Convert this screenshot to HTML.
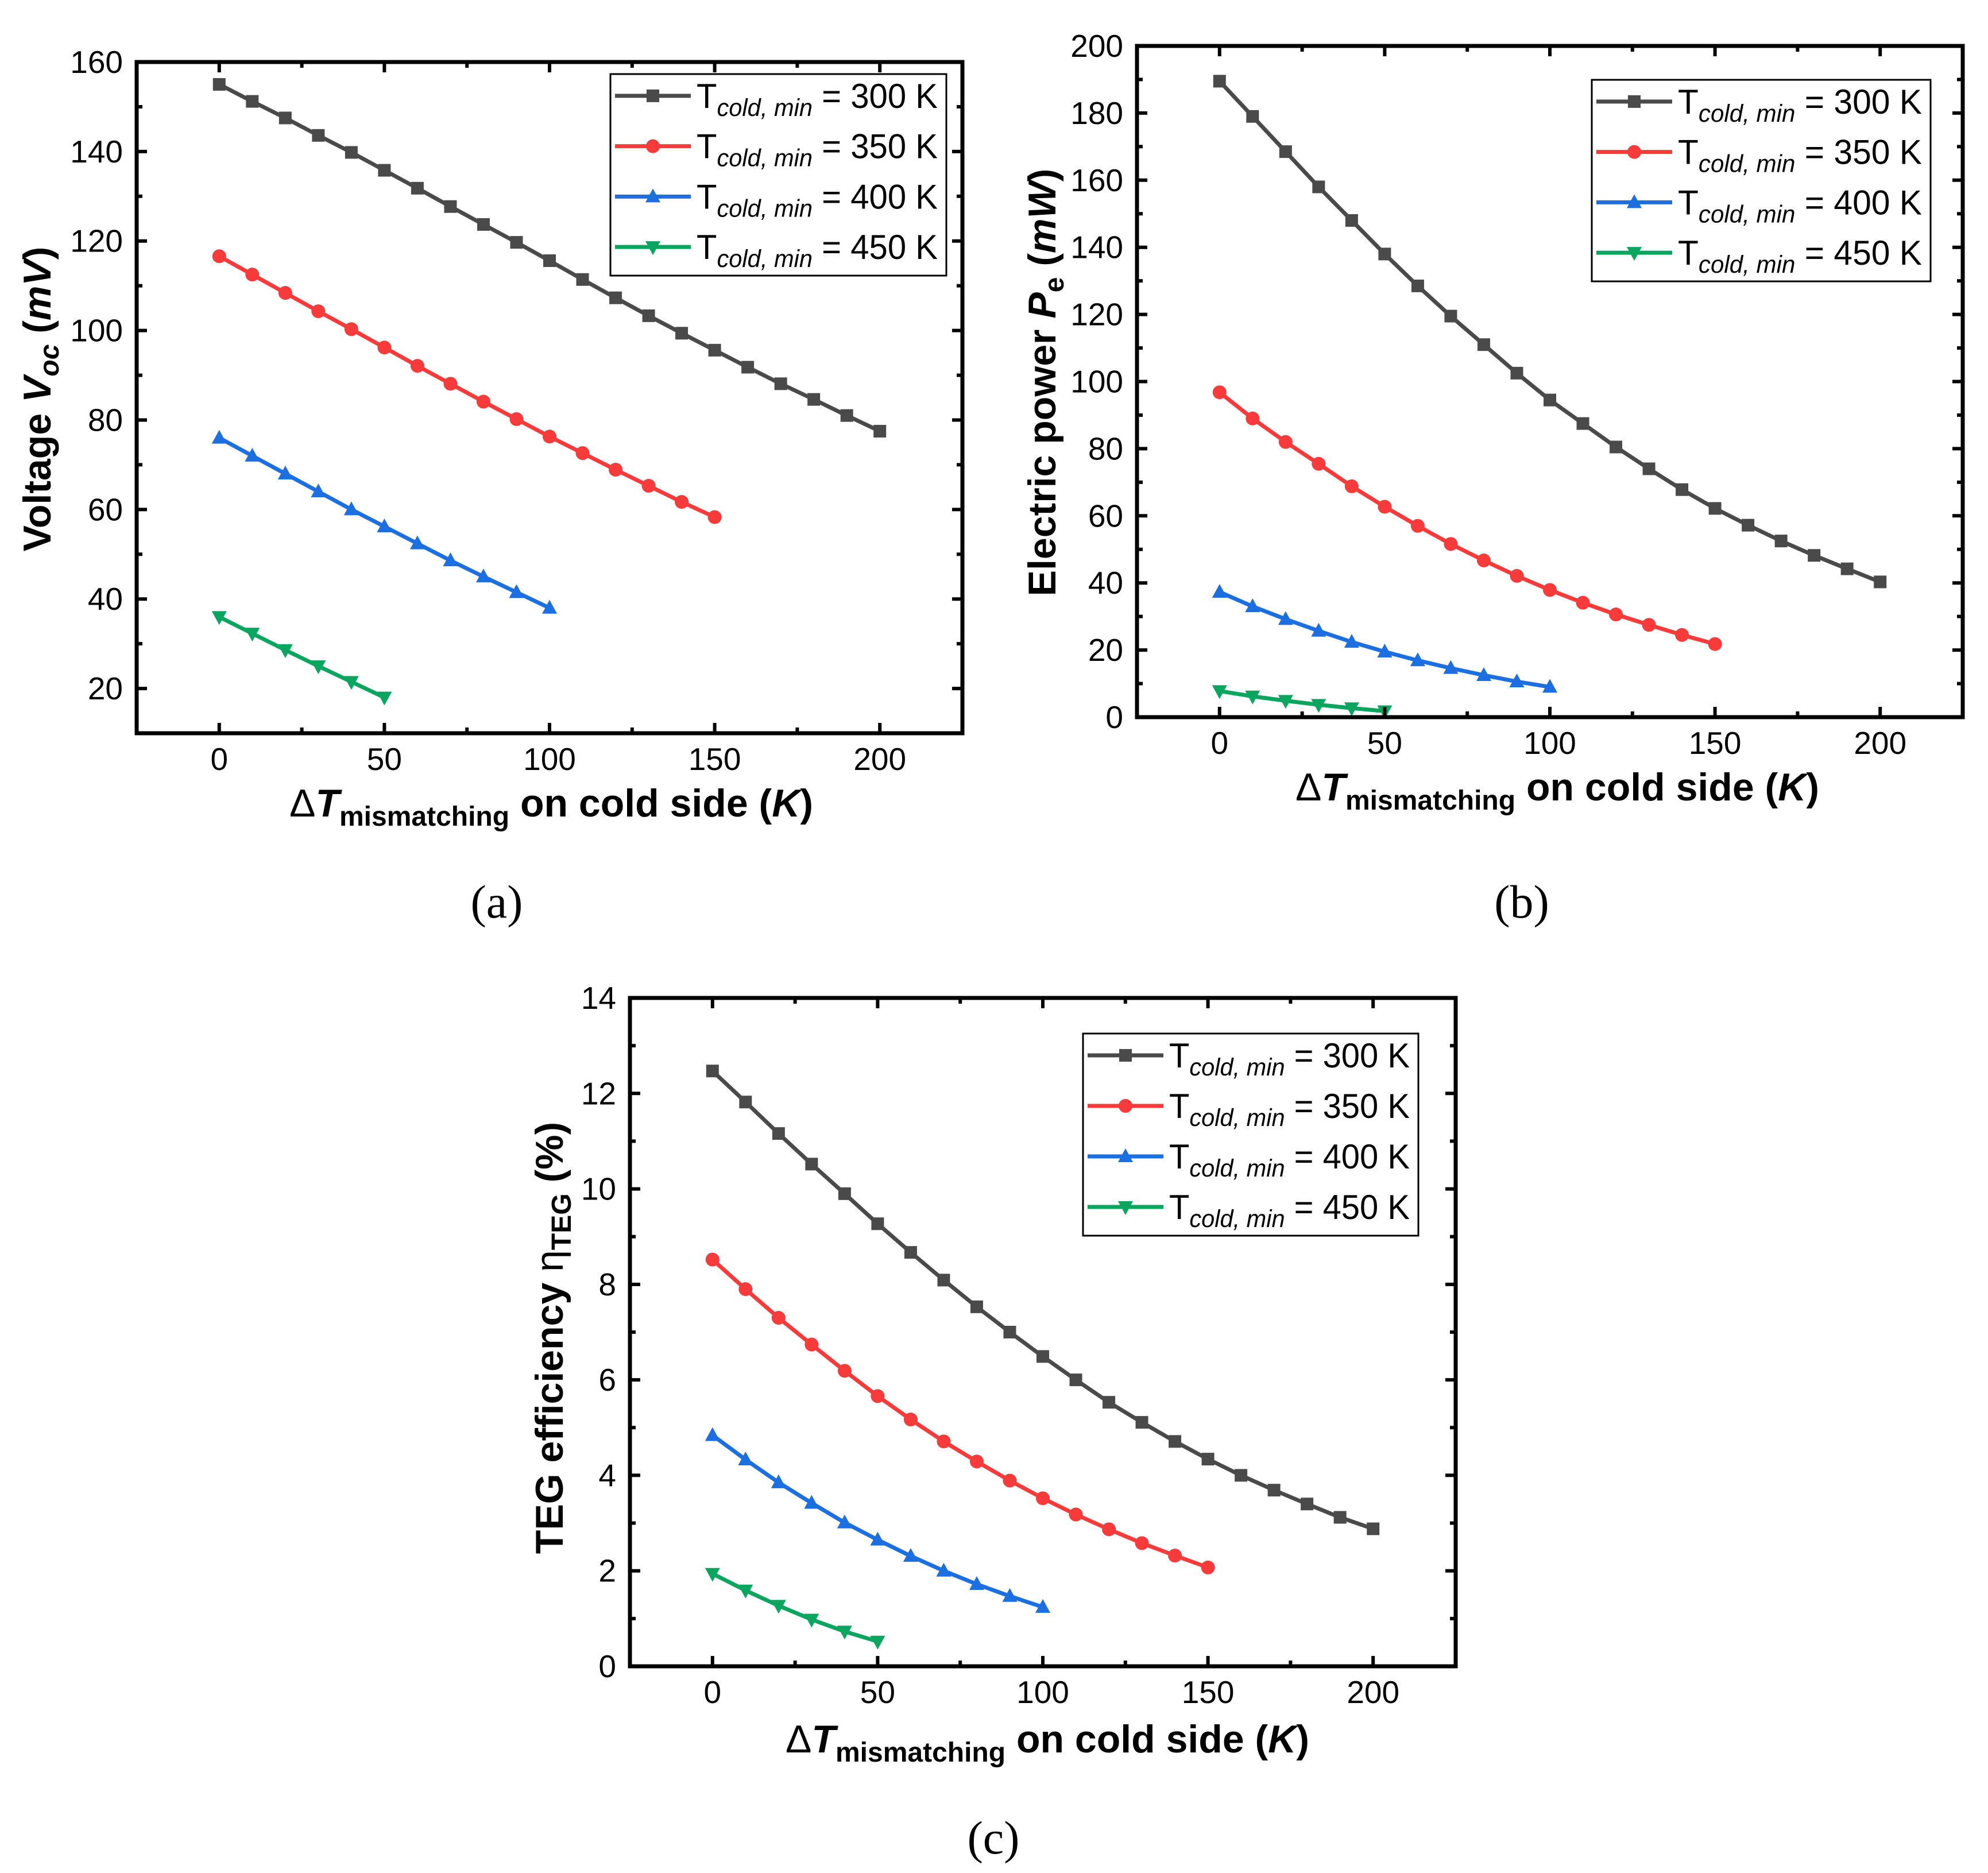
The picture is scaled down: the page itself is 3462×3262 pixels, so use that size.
<!DOCTYPE html>
<html><head><meta charset="utf-8">
<style>
html,body{margin:0;padding:0;background:#fff;}
svg{display:block;}
text{font-family:"Liberation Sans",sans-serif;}
</style></head>
<body>
<svg id="fig" width="3462" height="3262" viewBox="0 0 3462 3262" xmlns="http://www.w3.org/2000/svg"></svg>
<script>
// ---- data ----
const xCats300 = [0,10,20,30,40,50,60,70,80,90,100,110,120,130,140,150,160,170,180,190,200];
const xCats350 = [0,10,20,30,40,50,60,70,80,90,100,110,120,130,140,150];
const xCats400 = [0,10,20,30,40,50,60,70,80,90,100];
const xCats450 = [0,10,20,30,40,50];

const voc300 = [155,151.2,147.5,143.6,139.8,135.8,131.8,127.7,123.7,119.7,115.6,111.4,107.3,103.3,99.4,95.6,91.8,88.1,84.6,81,77.5];
const voc350 = [116.6,112.5,108.4,104.3,100.3,96.2,92.1,88.1,84.1,80.2,76.3,72.6,68.9,65.3,61.7,58.3];
const voc400 = [76,72,68,64,60,56.2,52.4,48.6,45,41.5,38];
const voc450 = [36,32.3,28.6,25,21.5,18];

const pe300 = [189.5,179,168.5,158,148,138,128.5,119.5,111,102.5,94.5,87.5,80.5,74,67.8,62.2,57.2,52.5,48.2,44.2,40.3];
const pe350 = [96.8,89,82,75.5,68.8,62.7,57,51.6,46.7,42.1,37.9,34.1,30.6,27.5,24.5,21.8];
const pe400 = [37.3,33,29.2,25.7,22.4,19.5,16.9,14.6,12.5,10.6,9];
const pe450 = [7.8,6.2,4.9,3.7,2.7,1.8];

const eta300 = [12.47,11.82,11.16,10.52,9.9,9.27,8.67,8.09,7.53,7,6.49,6.0,5.53,5.11,4.71,4.34,4.0,3.69,3.4,3.12,2.88];
const eta350 = [8.52,7.9,7.3,6.74,6.19,5.66,5.17,4.71,4.29,3.89,3.52,3.18,2.87,2.58,2.32,2.07];
const eta400 = [4.84,4.33,3.85,3.42,3.01,2.65,2.31,2.0,1.72,1.47,1.24];
const eta450 = [1.94,1.59,1.27,0.98,0.73,0.52];

const xTickLabels = [0,50,100,150,200];
const yTicksA = [20,40,60,80,100,120,140,160];
const yTicksB = [0,20,40,60,80,100,120,140,160,180,200];
const yTicksC = [0,2,4,6,8,10,12,14];
const legendLabels = ["300 K","350 K","400 K","450 K"];

const NS="http://www.w3.org/2000/svg";
const svg=document.getElementById('fig');
function mk(tag,attrs,parent){const e=document.createElementNS(NS,tag);for(const k in attrs)e.setAttribute(k,attrs[k]);(parent||svg).appendChild(e);return e;}

const colors=["#4a4a4a","#f73b3b","#1c6fe0","#0aa65f"];
const markers=["square","circle","up","down"];

function marker(g,type,x,y,c){
  let m;
  if(type==="square") m=mk('rect',{x:x-11,y:y-11,width:22,height:22,fill:c},g);
  else if(type==="circle") m=mk('circle',{cx:x,cy:y,r:12,fill:c},g);
  else if(type==="up") m=mk('polygon',{points:`${x},${y-14} ${x-13},${y+10} ${x+13},${y+10}`,fill:c},g);
  else m=mk('polygon',{points:`${x},${y+14} ${x-13},${y-10} ${x+13},${y-10}`,fill:c},g);
  return m;
}

function panel(cfg){
  const g=mk('g',{});
  
  
  const L=cfg.L,R=cfg.R,T=cfg.T,B=cfg.B;
  const xs=v=>L+(v+25)/250*(R-L);
  const ys=v=>B-(v-cfg.ymin)/(cfg.ymax-cfg.ymin)*(B-T);
  cfg.series.forEach((s,i)=>{
    const sg=mk('g',{},g);
    
    
    const pts=s.x.map((xv,j)=>xs(xv)+','+ys(s.y[j])).join(' ');
    const pl=mk('polyline',{points:pts,fill:'none',stroke:colors[i],'stroke-width':7,'stroke-linejoin':'round'},sg);
    
    
    s.x.forEach((xv,j)=>{
      const m=marker(sg,markers[i],xs(xv),ys(s.y[j]),colors[i]);
      
      
    });
  });
  const fr=mk('rect',{x:L,y:T,width:R-L,height:B-T,fill:'none',stroke:'#000','stroke-width':7},g);
  
  
  for(let v=0;v<=200;v+=25){
    const X=xs(v);const len=(v%50===0)?18:10;
    mk('line',{x1:X,y1:B,x2:X,y2:B-len,stroke:'#000','stroke-width':6},g);
    mk('line',{x1:X,y1:T,x2:X,y2:T+len,stroke:'#000','stroke-width':6},g);
  }
  xTickLabels.forEach(v=>{
    const t=mk('text',{x:xs(v),y:B+64,'font-size':55,'text-anchor':'middle'},g);
    t.textContent=v;
    
    
  });
  const step=cfg.yticks[1]-cfg.yticks[0];
  for(let v=cfg.ymin;v<=cfg.ymax+1e-9;v+=step/2){
    const Y=ys(v);const major=cfg.yticks.some(t=>Math.abs(t-v)<1e-6);const len=major?18:10;
    mk('line',{x1:L,y1:Y,x2:L+len,y2:Y,stroke:'#000','stroke-width':6},g);
    mk('line',{x1:R,y1:Y,x2:R-len,y2:Y,stroke:'#000','stroke-width':6},g);
  }
  cfg.yticks.forEach(v=>{
    const t=mk('text',{x:L-24,y:ys(v)+19,'font-size':55,'text-anchor':'end'},g);
    t.textContent=v;
    
    
  });
  const xt=mk('text',{x:cfg.xtx,y:cfg.xty,'font-size':68,'font-weight':'bold','text-anchor':'middle'},g);
  
  
  xt.innerHTML='<tspan font-weight="normal">Δ</tspan><tspan font-style="italic">T</tspan><tspan font-size="48" dy="16">mismatching</tspan><tspan dy="-16"> on cold side (</tspan><tspan font-style="italic">K</tspan><tspan>)</tspan>';
  const yt=mk('text',{transform:`translate(${cfg.ytx},${cfg.yty}) rotate(-90)`,'font-size':68,'font-weight':'bold','text-anchor':'middle'},g);
  
  
  yt.innerHTML=cfg.ytitle;
  const lg=mk('g',{},g);
  
  
  const lb=cfg.leg;
  mk('rect',{x:lb[0],y:lb[1],width:lb[2]-lb[0],height:lb[3]-lb[1],fill:'#fff',stroke:'#000','stroke-width':3},lg);
  const rowH=(lb[3]-lb[1])/4;
  legendLabels.forEach((lab,i)=>{
    const eg=mk('g',{},lg);
    
    
    const cy=lb[1]+rowH*(i+0.5)-6;
    mk('line',{x1:lb[0]+8,y1:cy,x2:lb[0]+140,y2:cy,stroke:colors[i],'stroke-width':7},eg);
    marker(eg,markers[i],lb[0]+74,cy,colors[i]);
    const t=mk('text',{x:lb[0]+150,y:cy+21,'font-size':60,textLength:lb[2]-lb[0]-165,lengthAdjust:'spacingAndGlyphs'},eg);
    t.innerHTML='T<tspan font-size="43" font-style="italic" dy="14">cold, min</tspan><tspan dy="-14"> = '+lab+'</tspan>';
  });
  const cp=mk('text',{x:cfg.capx,y:cfg.capy,'font-size':82,'text-anchor':'middle',style:'font-family:"Liberation Serif",serif'},g);
  cp.textContent=cfg.cap;
  
  
}

panel({name:'panel-a-voltage',L:238,R:1676,T:108,B:1277,ymin:10,ymax:160,yticks:yTicksA,
  series:[{x:xCats300,y:voc300},{x:xCats350,y:voc350},{x:xCats400,y:voc400},{x:xCats450,y:voc450}],
  xtx:960,xty:1422,ytx:88,yty:695,
  ytitle:'Voltage <tspan font-style="italic">V</tspan><tspan font-style="italic" font-size="48" dy="14">oc</tspan><tspan dy="-14"> (</tspan><tspan font-style="italic">mV</tspan>)',
  leg:[1063,129,1648,480],capx:865,capy:1598,cap:'(a)'});

panel({name:'panel-b-power',L:1980,R:3418,T:80,B:1249,ymin:0,ymax:200,yticks:yTicksB,
  series:[{x:xCats300,y:pe300},{x:xCats350,y:pe350},{x:xCats400,y:pe400},{x:xCats450,y:pe450}],
  xtx:2712,xty:1394,ytx:1838,yty:666,
  ytitle:'Electric power <tspan font-style="italic">P</tspan><tspan font-size="48" dy="14">e</tspan><tspan dy="-14"> (</tspan><tspan font-style="italic">mW</tspan>)',
  leg:[2772,139,3362,490],capx:2650,capy:1598,cap:'(b)'});

panel({name:'panel-c-efficiency',L:1097,R:2535,T:1738,B:2902,ymin:0,ymax:14,yticks:yTicksC,
  series:[{x:xCats300,y:eta300},{x:xCats350,y:eta350},{x:xCats400,y:eta400},{x:xCats450,y:eta450}],
  xtx:1824,xty:3052,ytx:980,yty:2330,
  ytitle:'TEG efficiency <tspan font-weight="normal">η</tspan><tspan font-size="48" dy="14">TEG</tspan><tspan dy="-14"> (%)</tspan>',
  leg:[1886,1800,2470,2152],capx:1730,capy:3228,cap:'(c)'});
</script>
</body></html>
